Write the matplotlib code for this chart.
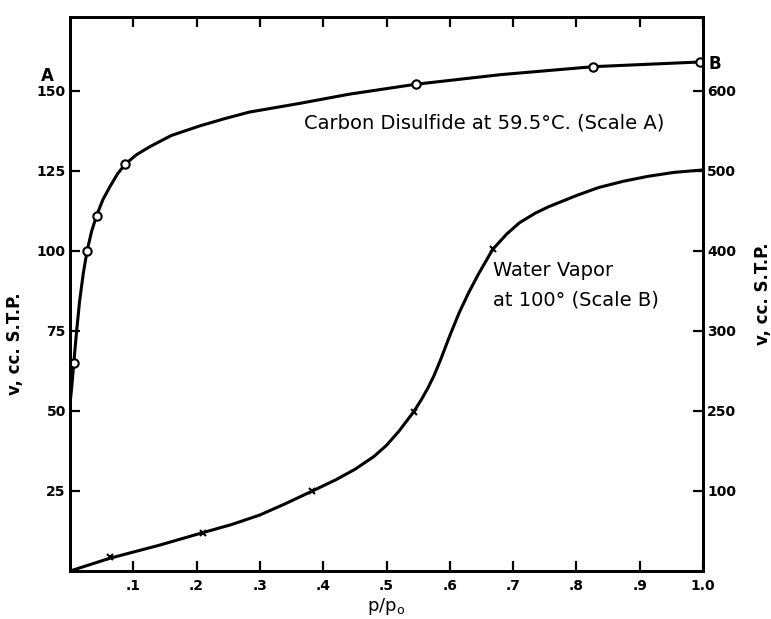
import matplotlib
matplotlib.use("Agg")
import matplotlib.pyplot as plt
import numpy as np

# measured points, carbon disulfide at 59.5 C (scale A)
cs2_p = [0.006, 0.027, 0.042, 0.087, 0.546, 0.827, 0.995]
cs2_v = [65, 100, 111, 127, 152, 157.5, 159]

# curve drawn through them
cs2_curve_p = [0.0, 0.003, 0.006, 0.010, 0.015, 0.021, 0.027, 0.034, 0.042, 0.052,
               0.063, 0.075, 0.087, 0.105, 0.126, 0.160, 0.205, 0.245, 0.283,
               0.362, 0.441, 0.546, 0.68, 0.827, 1.0]
cs2_curve_v = [52, 58, 65, 74, 84, 93, 100, 106, 111, 116,
               120, 124, 127, 130, 132.5, 136, 139, 141.3, 143.3,
               146, 148.9, 152, 155, 157.5, 159]

# water vapor at 100 C (scale B)
h2o_p = [0.063, 0.21, 0.383, 0.543, 0.668]
h2o_v = [17, 48, 100, 199, 402]

h2o_curve_p = [0.0, 0.063, 0.14, 0.21, 0.255, 0.30, 0.34, 0.383, 0.42, 0.45, 0.48,
               0.50, 0.52, 0.543, 0.555, 0.565, 0.575, 0.585, 0.60, 0.615, 0.63,
               0.646, 0.668, 0.69, 0.71, 0.735, 0.756, 0.80, 0.835, 0.875, 0.913,
               0.955, 1.0]
h2o_curve_v = [0, 16, 32, 48, 58, 70, 84, 100, 114, 127, 143,
               157, 175, 199, 214, 228, 244, 263, 294, 323, 348,
               372, 402, 421, 435, 447, 455, 469, 479, 487, 493,
               498, 501]

x_ticks = [0.1, 0.2, 0.3, 0.4, 0.5, 0.6, 0.7, 0.8, 0.9, 1.0]
x_labels = [".1", ".2", ".3", ".4", ".5", ".6", ".7", ".8", ".9", "1.0"]
a_ticks = [25, 50, 75, 100, 125, 150]
b_ticks = [100, 200, 300, 400, 500, 600]
b_labels = ["100", "250", "300", "400", "500", "600"]

fig = plt.figure(figsize=(7.71, 6.19), dpi=100)
ax = fig.add_axes([0.0908, 0.0775, 0.821, 0.895])
ax2 = ax.twinx()

a_max = 173
ax.set_xlim(0, 1.0)
ax.set_ylim(0, a_max)
ax2.set_ylim(0, a_max * 4)

ax.plot(cs2_curve_p, cs2_curve_v, color="black", lw=2.2, solid_capstyle="round",
        solid_joinstyle="round", zorder=2)
ax.plot(cs2_p, cs2_v, ls="none", marker="o", ms=6, mfc="white", mec="black", mew=1.5, zorder=3)

ax2.plot(h2o_curve_p, h2o_curve_v, color="black", lw=2.2, solid_capstyle="round",
         solid_joinstyle="round", zorder=2)
ax2.plot(h2o_p, h2o_v, ls="none", marker="x", ms=5, color="black", mew=1.5, zorder=3)

for sp in list(ax.spines.values()) + list(ax2.spines.values()):
    sp.set_linewidth(2)

tick_font = dict(fontsize=10, fontweight="bold")
ax.set_xticks(x_ticks)
ax.set_xticklabels(x_labels, **tick_font)
ax.set_yticks(a_ticks)
ax.set_yticklabels([str(t) for t in a_ticks], **tick_font)
ax.tick_params(axis="x", direction="in", length=7, width=1.6, top=True, pad=6)
ax.tick_params(axis="y", direction="in", length=7, width=1.6, pad=3)
ax2.set_yticks(b_ticks)
ax2.set_yticklabels(b_labels, **tick_font)
ax2.tick_params(axis="y", direction="in", length=7, width=1.6, pad=3)

ax.set_xlabel("p/p$_\\mathregular{o}$", fontsize=13, labelpad=2)
ax.set_ylabel("v, cc. S.T.P.", fontsize=12, fontweight="bold")
ax2.set_ylabel("v, cc. S.T.P.", fontsize=12, fontweight="bold")
ax.yaxis.set_label_coords(-0.072, 0.41)
ax2.yaxis.set_label_coords(1.08, 0.5)

ax.text(-0.035, 0.893, "A", transform=ax.transAxes, fontsize=12, fontweight="bold",
        ha="center", va="center")
ax.text(1.018, 0.915, "B", transform=ax.transAxes, fontsize=12, fontweight="bold",
        ha="center", va="center")

ax.text(0.369, 0.809, "Carbon Disulfide at 59.5°C. (Scale A)", transform=ax.transAxes,
        fontsize=14, ha="left", va="center")
ax.text(0.669, 0.543, "Water Vapor", transform=ax.transAxes, fontsize=14,
        ha="left", va="center")
ax.text(0.669, 0.489, "at 100° (Scale B)", transform=ax.transAxes, fontsize=14,
        ha="left", va="center")

fig.savefig("out.png", dpi=100, facecolor="white")
